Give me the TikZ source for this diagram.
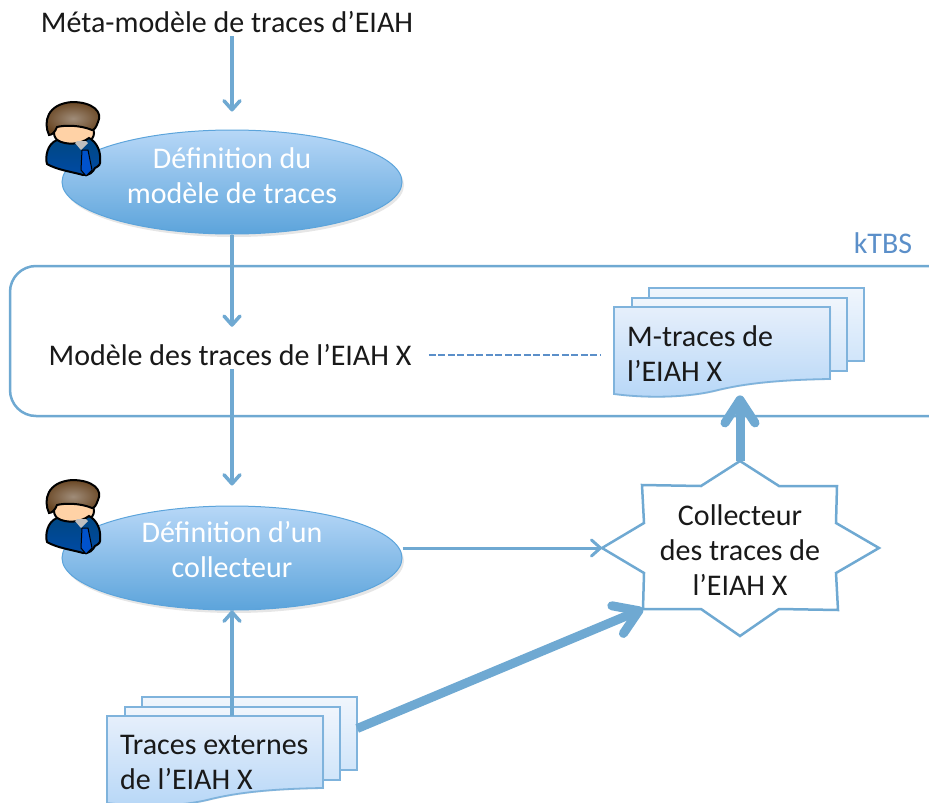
\documentclass[tikz,border=0pt]{standalone}
\usepackage{fontspec}
\setmainfont{Carlito}
\usepackage{amsmath}
\usetikzlibrary{arrows.meta,shapes.geometric,shadows,calc}
\definecolor{lineblue}{HTML}{6FA9D2}
\definecolor{kblue}{HTML}{5B8FC9}
\definecolor{sheetline}{HTML}{7FB3DC}
\definecolor{sheettop}{HTML}{E6EFFB}
\definecolor{tasktop}{HTML}{B7D7F7}
\definecolor{taskbottom}{HTML}{5CA4DB}
\begin{document}
\begin{tikzpicture}[
  x=1pt,y=-1pt,
  every node/.style = {font=\fontsize{30}{35}\selectfont,text=black!90},
  link/.style = {draw=lineblue,line width=3.5pt,-{Straight Barb[length=9pt,width=16pt,round]}},
  thick link/.style = {draw=lineblue,line width=9pt,-{Straight Barb[length=23pt,width=30pt,round]}},
  task/.style = {ellipse,draw=taskbottom,line width=1pt,minimum width=340pt,minimum height=104pt,
    top color=tasktop,bottom color=taskbottom,inner sep=0pt,
    drop shadow={opacity=.2,shadow xshift=2pt,shadow yshift=-3pt}},
  task text/.style = {align=center,text=white},
  sheet options/.style = {draw=sheetline,line width=1.8pt},
  person/.pic = {
    \draw[line width=2pt,fill=orange!35!white] (29,31) ellipse (20pt and 13pt);
    \draw[line width=2pt,top color=blue!45!cyan!50!black,bottom color=blue!55!cyan!65!black]
      (12,38) .. controls (2,42) and (0,55) .. (2,62) .. controls (12,68) and (28,70) .. (38,73)
      .. controls (44,74) and (48,70) .. (50,66) .. controls (54,64) and (56,62) .. (55,58)
      .. controls (56,50) and (52,40) .. (44,36) .. controls (36,42) and (22,44) .. (12,38) -- cycle;
    \fill[white!75!black] (30,41) -- (36,48) -- (43,41) -- (41,39) -- (32,39) -- cycle;
    \draw[line width=1pt,fill=blue!60!cyan!80!black] (37,48) -- (43,48) -- (47,68) -- (41,74) -- (36,68) -- cycle;
    \draw[line width=2pt,inner color=brown!50!black!60!white,outer color=brown!55!black]
      (4,33) .. controls (-2,20) and (2,2) .. (27,0) .. controls (48,0) and (58,10) .. (53,20)
      .. controls (51,26) and (49,28) .. (47,28) .. controls (35,23) and (20,23) .. (12,25)
      .. controls (10,30) and (7,33) .. (4,33) -- cycle;
  },
  sheets/.pic = {
    \foreach \dx/\dy in {35/-19,18/-9} {
      \draw[sheet options,top color=sheettop!60!white,bottom color=tasktop!65!white]
        (\dx,\dy) rectangle ++(215,73);
    }
    \node[minimum width=215pt,minimum height=73pt,inner sep=0pt] (-back) at (142.5,17.5) {};
    \draw[sheet options,top color=sheettop,bottom color=tasktop,drop shadow={opacity=.15,shadow xshift=1pt,shadow yshift=-1pt}]
      (0,0) -- (216,0) -- (216,72) .. controls (150,73) and (120,79) .. (100,84)
      .. controls (70,91) and (30,91) .. (0,87) -- cycle;
    \node[anchor=north west,text width=190pt,inner xsep=13pt,inner ysep=0pt,align=flush left,minimum height=80pt] (-front) at (0,6) {#1};
  },
  ]
  \useasboundingbox (0,0) rectangle (929,803);
  \node (meta) at (227,22) {Méta-modèle de traces d’EIAH};
  \node[task] (definition) at (232,182) {};
  \node[task text] (definition text) at (232,176) {Définition du\\modèle de traces};
  \node[task] (collecte) at (232,558) {};
  \node[task text] (collecte text) at (232,550) {Définition d’un\\collecteur};
  \path (45,102) pic {person};
  \path (45,480) pic {person};
  \draw[draw=lineblue,line width=2.5pt,rounded corners=26pt] (10,266) rectangle (960,416);
  \node[text=kblue] (ktbs) at (883,243) {kTBS};
  \node (modele) at (230,355) {Modèle des traces de l’EIAH X};
  \path (614,307) pic (mtraces) {sheets={M-traces de\\l’EIAH X}};
  \path (107,716) pic (externes) {sheets={Traces externes\\de l’EIAH X}};
  % the star is wider than high, so its outline is typed point by point
  \draw[draw=lineblue,line width=2.5pt,fill=white] (740,461) coordinate (star top) -- (779,486) -- (837,486) -- (836,523)
    -- (879,548) coordinate (star right) -- (836,573) -- (838,610) -- (779,609) -- (740,636) -- (701,609)
    -- (643,609) coordinate (star corner) -- (644,573) -- (602,548) coordinate (star left) -- (644,523) -- (642,485) -- (701,486) -- cycle;
  \node[align=center] (collecteur) at (740,550) {Collecteur\\des traces de\\l’EIAH X};
  \draw[link,shorten >=18pt] (meta.south -| definition) -- (definition.north);
  \draw[link,shorten >=14pt] (definition.south) -- (modele.north -| definition);
  \draw[link,shorten >=20pt] (modele.south -| collecte) -- (collecte.north);
  \draw[link,line width=3pt] (collecte.east |- star left) -- (star left);
  \draw[link] ([yshift=6pt]externes-front.north -| collecte) -- (collecte.south);
  \draw[thick link] ([yshift=5pt]externes-back.east) -- (star corner);
  \draw[thick link] (star top) -- ([yshift=-2pt]mtraces-front.south -| star top);
  \draw[draw=kblue,line width=2.5pt,dash pattern=on 7pt off 2.5pt,shorten <=14pt,shorten >=14pt] (modele.east) -- (modele.east -| mtraces-front.west);
\end{tikzpicture}
\end{document}
